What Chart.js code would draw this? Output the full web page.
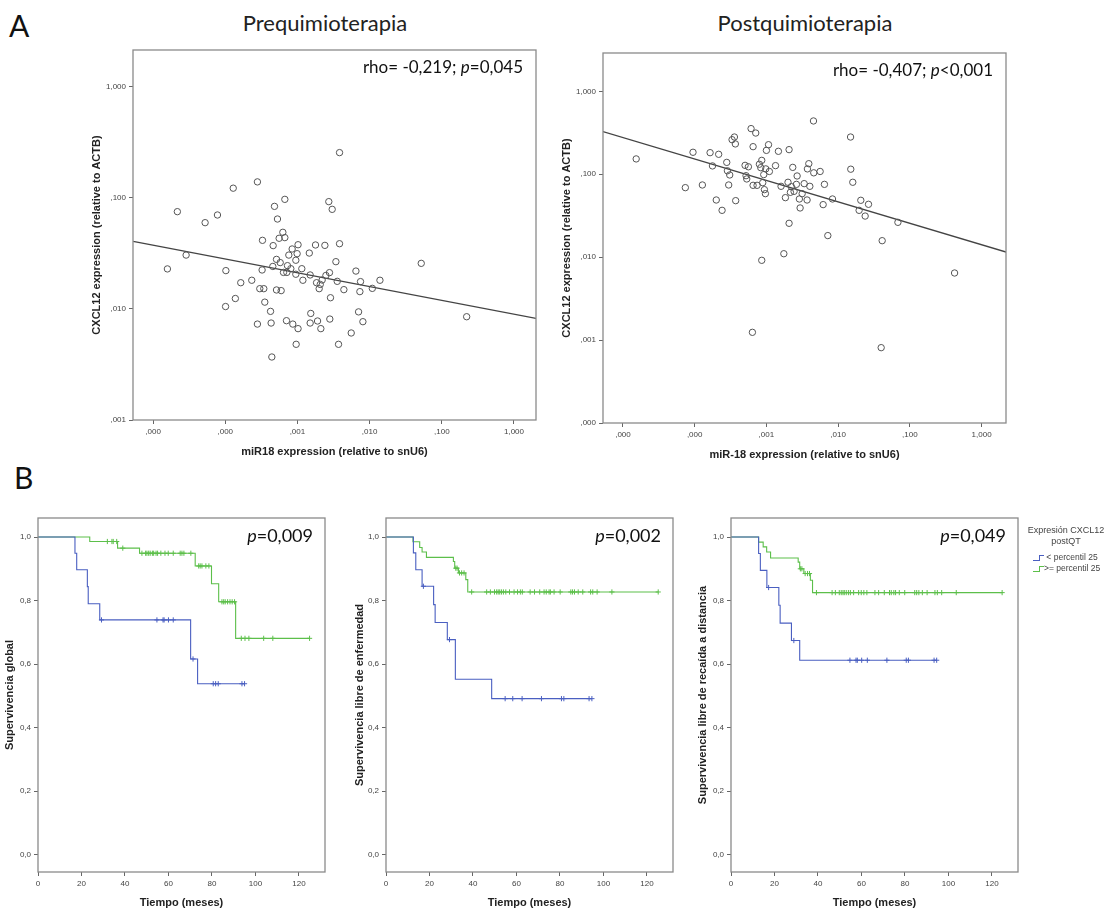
<!DOCTYPE html>
<html>
<head>
<meta charset="utf-8">
<script src="https://cdn.jsdelivr.net/npm/chart.js@4.4.1/dist/chart.umd.min.js"></script>
<style>
  body { margin: 0; background: #fff; }
  #page { position: relative; width: 1105px; height: 911px; overflow: hidden; font-family: Lato, "Open Sans", sans-serif; }
  canvas { position: absolute; }
  .letter { position: absolute; font-size: 30px; line-height: 30px; color: #111; }
  .head { position: absolute; font-size: 22px; line-height: 22px; color: #222; width: 300px; text-align: center; }
  .leg { position: absolute; font-family: "Liberation Sans", Arial, sans-serif; font-size: 9px; color: #444; }
  .legrow { position: absolute; font-family: "Liberation Sans", Arial, sans-serif; font-size: 8.5px; color: #444; white-space: nowrap; }
  .stp { display: inline-block; vertical-align: middle; width: 6px; height: 5px; }
</style>
</head>
<body>
<div id="page">
  <div class="letter" style="left:9px; top:10px;">A</div>
  <div class="letter" style="left:14px; top:462px;">B</div>
  <div class="head" style="left:175px; top:12px;">Prequimioterapia</div>
  <div class="head" style="left:655px; top:12px;">Postquimioterapia</div>

  <canvas id="pre" width="470" height="425" style="left:80px; top:40px;"></canvas>
  <canvas id="post" width="470" height="425" style="left:550px; top:40px;"></canvas>
  <canvas id="km1" width="335" height="406" style="left:0px; top:505px;"></canvas>
  <canvas id="km2" width="338" height="406" style="left:345px; top:505px;"></canvas>
  <canvas id="km3" width="335" height="406" style="left:690px; top:505px;"></canvas>

  <div class="leg" style="left:1022px; top:525px; width:88px; text-align:center; line-height:11px;">Expresión CXCL12<br>postQT</div>
  <div class="legrow" style="left:1033px; top:552px;">
    <span class="stp" style="border-bottom:1px solid #4a5fc1; border-right:1px solid #4a5fc1;"></span><span class="stp" style="border-top:1px solid #4a5fc1; width:4px;"></span> &lt; percentil 25
  </div>
  <div class="legrow" style="left:1033px; top:563px;">
    <span class="stp" style="border-bottom:1px solid #5cbf4a; border-right:1px solid #5cbf4a;"></span><span class="stp" style="border-top:1px solid #5cbf4a; width:4px;"></span>&gt;= percentil 25
  </div>
</div>

<script>
// ------------------------------------------------------------
// Datos
// ------------------------------------------------------------

// A - Prequimioterapia: miR18 (x) vs CXCL12 (y)
const preX = [1.58e-5, 2.17e-5, 2.87e-5, 5.26e-5, 7.8e-5, 1.02e-4, 1.01e-4, 1.29e-4, 1.38e-4, 1.64e-4,
  2.33e-4, 2.79e-4, 2.79e-4, 3.01e-4, 3.24e-4, 3.28e-4, 3.42e-4, 3.53e-4, 4.24e-4, 4.32e-4,
  4.42e-4, 4.56e-4, 4.61e-4, 4.81e-4, 5.13e-4, 5.13e-4, 5.29e-4, 5.58e-4, 5.77e-4, 5.95e-4,
  6.28e-4, 6.41e-4, 6.69e-4, 6.69e-4, 7.05e-4, 7.13e-4, 7.28e-4, 7.6e-4, 8.1e-4, 8.45e-4,
  8.63e-4, 9.5e-4, 9.5e-4, 9.6e-4, 9.9e-4, 1.02e-3, 1.02e-3, 1.15e-3, 1.19e-3, 1.46e-3,
  1.5e-3, 1.5e-3, 1.53e-3, 1.78e-3, 1.84e-3, 1.9e-3, 2.0e-3, 2.07e-3, 2.11e-3, 2.2e-3,
  2.4e-3, 2.48e-3, 2.72e-3, 2.78e-3, 2.81e-3, 2.87e-3, 3.03e-3, 3.41e-3, 3.56e-3, 3.71e-3,
  3.83e-3, 3.83e-3, 4.4e-3, 5.56e-3, 6.46e-3, 7.03e-3, 7.33e-3, 7.48e-3, 8.07e-3, 1.09e-2,
  1.39e-2, 5.19e-2, 0.221];
const preY = [2.29e-2, 7.5e-2, 3.05e-2, 5.97e-2, 7.0e-2, 2.21e-2, 1.05e-2, 0.122, 1.24e-2, 1.72e-2,
  1.81e-2, 0.139, 7.3e-3, 1.52e-2, 2.24e-2, 4.14e-2, 1.52e-2, 1.15e-2, 9.5e-3, 7.46e-3,
  3.69e-3, 2.41e-2, 3.71e-2, 8.37e-2, 2.79e-2, 1.48e-2, 6.44e-2, 4.32e-2, 2.61e-2, 1.46e-2,
  4.89e-2, 2.13e-2, 9.68e-2, 4.38e-2, 7.83e-3, 2.13e-2, 2.45e-2, 3.05e-2, 2.3e-2, 3.46e-2,
  7.3e-3, 2.05e-2, 2.74e-2, 4.8e-3, 3.14e-2, 6.64e-3, 3.78e-2, 2.3e-2, 1.81e-2, 3.18e-2,
  2.02e-2, 7.46e-3, 9.1e-3, 3.76e-2, 1.72e-2, 7.78e-3, 1.52e-2, 1.66e-2, 6.64e-3, 1.82e-2,
  3.73e-2, 2.0e-2, 9.23e-2, 2.12e-2, 8.1e-3, 1.26e-2, 7.87e-2, 2.66e-2, 1.77e-2, 4.8e-3,
  0.255, 3.86e-2, 1.49e-2, 6.07e-3, 2.19e-2, 9.4e-3, 1.43e-2, 1.76e-2, 7.67e-3, 1.53e-2,
  1.81e-2, 2.57e-2, 8.5e-3];
const preFitX = [5.3e-6, 2.02];
const preFitY = [4.06e-2, 8.2e-3];

// A - Postquimioterapia
const postX = [1.53e-5, 7.41e-5, 9.48e-5, 1.28e-4, 1.64e-4, 1.77e-4, 2.0e-4, 2.16e-4, 2.41e-4, 2.8e-4,
  2.86e-4, 2.98e-4, 3.08e-4, 3.32e-4, 3.58e-4, 3.69e-4, 3.73e-4, 5.04e-4, 5.2e-4, 5.32e-4,
  5.61e-4, 6.11e-4, 6.38e-4, 6.52e-4, 6.52e-4, 7.1e-4, 7.41e-4, 7.98e-4, 8.34e-4, 8.61e-4,
  8.61e-4, 8.89e-4, 9.18e-4, 9.38e-4, 9.68e-4, 9.79e-4, 1.0e-3, 1.07e-3, 1.1e-3, 1.34e-3,
  1.47e-3, 1.6e-3, 1.75e-3, 1.84e-3, 2.0e-3, 2.07e-3, 2.07e-3, 2.16e-3, 2.23e-3, 2.33e-3,
  2.43e-3, 2.62e-3, 2.68e-3, 2.88e-3, 2.95e-3, 3.15e-3, 3.36e-3, 3.69e-3, 3.73e-3, 3.9e-3,
  4.03e-3, 4.53e-3, 4.57e-3, 5.61e-3, 6.18e-3, 6.44e-3, 7.18e-3, 8.34e-3, 1.49e-2, 1.5e-2,
  1.6e-2, 1.96e-2, 2.07e-2, 2.38e-2, 2.65e-2, 3.98e-2, 4.11e-2, 6.81e-2, 0.42];
const postY = [0.153, 6.89e-2, 0.184, 7.42e-2, 0.182, 0.126, 4.89e-2, 0.174, 3.67e-2, 0.139,
  0.110, 7.42e-2, 9.8e-2, 0.261, 0.281, 0.232, 4.8e-2, 0.128, 9.6e-2, 8.77e-2,
  0.123, 0.355, 1.24e-3, 7.35e-2, 0.215, 0.314, 7.35e-2, 0.132, 0.12, 0.147,
  9.16e-3, 7.91e-2, 9.9e-2, 6.52e-2, 5.83e-2, 0.116, 0.194, 0.227, 0.108, 0.127,
  0.189, 7.15e-2, 1.1e-2, 5.22e-2, 8.0e-2, 0.198, 2.56e-2, 6.05e-2, 7.08e-2, 0.121,
  6.22e-2, 7.55e-2, 9.53e-2, 5.03e-2, 3.92e-2, 5.83e-2, 7.7e-2, 4.89e-2, 0.116, 0.134,
  7.15e-2, 0.439, 0.104, 0.108, 4.3e-2, 7.55e-2, 1.82e-2, 5.03e-2, 0.281, 0.115,
  8.0e-2, 3.67e-2, 4.85e-2, 3.13e-2, 4.34e-2, 8.1e-4, 1.58e-2, 2.63e-2, 6.44e-3];
const postFitX = [5.26e-6, 2.19];
const postFitY = [0.327, 1.153e-2];

const logTicks = [1e-5, 1e-4, 1e-3, 1e-2, 1e-1, 1];
const preYTicks = [1e-3, 1e-2, 1e-1, 1];
const postYTicks = [1e-4, 1e-3, 1e-2, 1e-1, 1];

// B - Kaplan-Meier (tiempo en meses, supervivencia)
// Supervivencia global
const osLowT = [0, 17.0, 17.8, 22.7, 23.1, 28.4, 70.2, 73.4, 95.0];
const osLowS = [1, 0.949, 0.897, 0.844, 0.790, 0.739, 0.616, 0.538, 0.538];
const osLowCens = [29.2, 54.7, 57.5, 58.0, 60.0, 62.2, 71.3, 80.6, 81.7, 82.9, 93.8, 95.0];
const osHighT = [0, 23.8, 36.6, 46.7, 72.3, 79.8, 83.1, 90.9, 124.9];
const osHighS = [1, 0.986, 0.965, 0.949, 0.909, 0.853, 0.796, 0.681, 0.681];
const osHighCens = [31.9, 34.0, 34.6, 36.2, 39.0, 47.8, 49.5, 50.1, 50.9, 51.6, 52.6, 53.2, 54.3, 55.0,
  56.5, 58.4, 59.9, 62.2, 65.4, 66.2, 67.1, 70.3, 73.9, 74.6, 75.4, 77.2, 78.6, 84.6, 85.4, 86.1,
  87.2, 88.3, 89.3, 90.4, 93.5, 95.2, 97.0, 103.8, 108.0, 124.9];

// Supervivencia libre de enfermedad
const dfsLowT = [0, 12.6, 13.7, 16.6, 21.9, 22.6, 28.2, 31.9, 48.6, 94.7];
const dfsLowS = [1, 0.950, 0.897, 0.845, 0.787, 0.731, 0.677, 0.552, 0.491, 0.491];
const dfsLowCens = [17.2, 29.2, 54.8, 58.3, 62.6, 71.5, 80.7, 81.8, 93.4, 94.7];
const dfsHighT = [0, 12.4, 15.5, 16.6, 18.6, 31.0, 31.6, 33.3, 36.7, 37.6, 125.2];
const dfsHighS = [1, 0.985, 0.967, 0.953, 0.936, 0.923, 0.902, 0.887, 0.866, 0.827, 0.827];
const dfsHighCens = [32.1, 32.7, 33.8, 34.8, 35.9, 39.4, 46.3, 48.0, 49.9, 50.9, 51.6, 52.3, 53.1, 54.0,
  55.1, 56.8, 58.9, 60.5, 61.8, 62.7, 66.3, 68.3, 70.7, 72.7, 73.7, 75.0, 75.6, 77.3, 80.1, 85.0,
  85.8, 86.7, 88.4, 90.5, 94.1, 95.1, 97.1, 103.9, 125.2];

// Supervivencia libre de recaída a distancia
const ddfsLowT = [0, 12.7, 13.5, 16.5, 22.0, 22.6, 27.8, 31.6, 94.6];
const ddfsLowS = [1, 0.948, 0.895, 0.841, 0.785, 0.729, 0.674, 0.612, 0.612];
const ddfsLowCens = [17.3, 28.9, 54.7, 57.5, 58.1, 60.1, 62.7, 71.7, 80.6, 81.6, 93.4, 94.6];
const ddfsHighT = [0, 12.7, 14.8, 16.4, 18.2, 30.9, 31.6, 33.5, 36.5, 37.5, 124.7];
const ddfsHighS = [1, 0.984, 0.969, 0.953, 0.934, 0.921, 0.900, 0.885, 0.864, 0.825, 0.825];
const ddfsHighCens = [31.9, 32.6, 34.1, 35.2, 36.1, 39.3, 46.5, 48.0, 49.8, 50.7, 51.5, 52.1, 53.0, 54.0,
  54.9, 56.4, 58.7, 59.9, 61.1, 62.5, 66.2, 67.9, 70.5, 72.9, 73.7, 74.9, 75.7, 77.4, 79.9, 84.5,
  85.4, 86.4, 88.0, 90.2, 93.8, 94.9, 96.9, 103.6, 124.7];

const kmXTicks = [0, 20, 40, 60, 80, 100, 120];
const kmYTicks = [0, 0.2, 0.4, 0.6, 0.8, 1.0];

// ------------------------------------------------------------
// Estilos comunes
// ------------------------------------------------------------
const BLUE = '#4a5fc1';
const GREEN = '#5cbf4a';
Chart.defaults.font.family = '"Liberation Sans", Arial, sans-serif';
Chart.defaults.animation = false;

const tickFont = { size: 8 };
const titleFont = { size: 11, weight: 'bold' };

const fmt3 = v => v.toFixed(3).replace('.', ',').replace(/^0,/, ',');
const fmt1 = v => v.toFixed(1).replace('.', ',');

const pts = (xs, ys) => xs.map((x, i) => ({ x: x, y: ys[i] }));

// valor de la curva escalonada en el tiempo t (para las marcas de censura)
function survAt(t, T, S) {
  let s = S[0];
  for (let i = 0; i < T.length; i++) if (T[i] <= t) s = S[i];
  return s;
}

// marco + texto de anotación (rho / p)
function framePlugin(parts, dx, dy, size) {
  return {
    id: 'frame',
    afterDraw(chart) {
      const { ctx, chartArea: a } = chart;
      ctx.save();
      ctx.strokeStyle = '#8a8a8a';
      ctx.lineWidth = 1.3;
      ctx.strokeRect(a.left, a.top, a.right - a.left, a.bottom - a.top);
      ctx.fillStyle = '#111';
      ctx.textBaseline = 'alphabetic';
      const fonts = parts.map(p => (p[1] ? 'italic ' : '') + size + 'px Lato, "Open Sans", sans-serif');
      let total = 0;
      parts.forEach((p, i) => { ctx.font = fonts[i]; total += ctx.measureText(p[0]).width; });
      let x = a.right - dx - total;
      parts.forEach((p, i) => {
        ctx.font = fonts[i];
        ctx.fillText(p[0], x, a.top + dy);
        x += ctx.measureText(p[0]).width;
      });
      ctx.restore();
    }
  };
}

function axisGrid() {
  return { display: true, drawOnChartArea: false, drawTicks: true, tickLength: 4, color: '#666' };
}

// ------------------------------------------------------------
// Diagramas de dispersión (A)
// ------------------------------------------------------------
function scatterChart(id, xs, ys, fx, fy, yMin, yMax, yTicks, xTitle, note, lay) {
  new Chart(document.getElementById(id), {
    type: 'scatter',
    data: {
      datasets: [
        {
          data: pts(xs, ys),
          pointStyle: 'circle',
          pointRadius: 3.2,
          borderColor: '#555',
          backgroundColor: 'rgba(0,0,0,0)',
          borderWidth: 1
        },
        {
          data: pts(fx, fy),
          showLine: true,
          borderColor: '#444',
          borderWidth: 1.3,
          pointRadius: 0
        }
      ]
    },
    options: {
      responsive: false,
      layout: { padding: { top: lay.top, right: lay.right, left: 0, bottom: 0 } },
      plugins: { legend: { display: false }, tooltip: { enabled: false } },
      scales: {
        x: {
          type: 'logarithmic',
          min: 10 ** -5.278, max: lay.xMax,
          afterBuildTicks: s => { s.ticks = logTicks.map(v => ({ value: v })); },
          afterFit: s => { s.height = lay.xh; },
          grid: axisGrid(),
          border: { display: false },
          ticks: { font: tickFont, color: '#444', maxRotation: 0, callback: v => fmt3(v) },
          title: { display: true, text: xTitle, font: titleFont, color: '#222', padding: { top: 0, bottom: lay.xtp } }
        },
        y: {
          type: 'logarithmic',
          min: yMin, max: yMax,
          afterBuildTicks: s => { s.ticks = yTicks.map(v => ({ value: v })); },
          afterFit: s => { s.width = 53; },
          grid: axisGrid(),
          border: { display: false },
          ticks: { font: tickFont, color: '#444', callback: v => fmt3(v) },
          title: { display: true, text: 'CXCL12 expression (relative to ACTB)', font: titleFont, color: '#222', padding: { top: 10, bottom: 0 } }
        }
      }
    },
    plugins: [framePlugin(note, 13, 23, 17)]
  });
}

scatterChart('pre', preX, preY, preFitX, preFitY, 1e-3, 10 ** 0.33, preYTicks,
  'miR18 expression (relative to snU6)',
  [['rho= -0,219; ', false], ['p', true], ['=0,045', false]],
  { top: 10, right: 14, xh: 45, xtp: 6.4, xMax: 10 ** 0.305 });

scatterChart('post', postX, postY, postFitX, postFitY, 1e-4, 10 ** 0.462, postYTicks,
  'miR-18 expression (relative to snU6)',
  [['rho= -0,407; ', false], ['p', true], ['<0,001', false]],
  { top: 13, right: 14, xh: 42, xtp: 3.4, xMax: 10 ** 0.340 });

// ------------------------------------------------------------
// Curvas de Kaplan-Meier (B)
// ------------------------------------------------------------
function kmChart(id, lowT, lowS, lowC, highT, highS, highC, yTitle, note, lay) {
  const curve = (T, S, col) => ({
    data: pts(T, S), showLine: true, stepped: true,
    borderColor: col, borderWidth: 1.1, pointRadius: 0
  });
  const cens = (C, T, S, col) => ({
    data: C.map(t => ({ x: t, y: survAt(t, T, S) })),
    showLine: false, pointStyle: 'cross', pointRadius: 2.6,
    borderColor: col, borderWidth: 1
  });
  new Chart(document.getElementById(id), {
    type: 'scatter',
    data: {
      datasets: [
        curve(lowT, lowS, BLUE), cens(lowC, lowT, lowS, BLUE),
        curve(highT, highS, GREEN), cens(highC, highT, highS, GREEN)
      ]
    },
    options: {
      responsive: false,
      layout: { padding: { top: 13, right: lay.right, left: 0, bottom: 0 } },
      plugins: { legend: { display: false }, tooltip: { enabled: false } },
      scales: {
        x: {
          type: 'linear', min: 0, max: 132,
          afterBuildTicks: s => { s.ticks = kmXTicks.map(v => ({ value: v })); },
          afterFit: s => { s.height = 39; },
          grid: axisGrid(),
          border: { display: false },
          ticks: { font: tickFont, color: '#444', maxRotation: 0 },
          title: { display: true, text: 'Tiempo (meses)', font: titleFont, color: '#222', padding: { top: 0, bottom: 1.4 } }
        },
        y: {
          type: 'linear', min: -0.055, max: 1.06,
          afterBuildTicks: s => { s.ticks = kmYTicks.map(v => ({ value: v })); },
          afterFit: s => { s.width = lay.yw; },
          grid: axisGrid(),
          border: { display: false },
          ticks: { font: tickFont, color: '#444', callback: v => fmt1(v) },
          title: { display: true, text: yTitle, font: titleFont, color: '#222', padding: { top: lay.ytp, bottom: 0 } }
        }
      }
    },
    plugins: [framePlugin(note, 12, 24, 18)]
  });
}

kmChart('km1', osLowT, osLowS, osLowCens, osHighT, osHighS, osHighCens,
  'Supervivencia global', [['p', true], ['=0,009', false]],
  { right: 10, yw: 38, ytp: 3.4 });

kmChart('km2', dfsLowT, dfsLowS, dfsLowCens, dfsHighT, dfsHighS, dfsHighCens,
  'Supervivencia libre de enfermedad', [['p', true], ['=0,002', false]],
  { right: 10, yw: 41, ytp: 8.4 });

kmChart('km3', ddfsLowT, ddfsLowS, ddfsLowCens, ddfsHighT, ddfsHighS, ddfsHighCens,
  'Supervivencia libre de recaída a distancia', [['p', true], ['=0,049', false]],
  { right: 7, yw: 41, ytp: 6.4 });
</script>
</body>
</html>
